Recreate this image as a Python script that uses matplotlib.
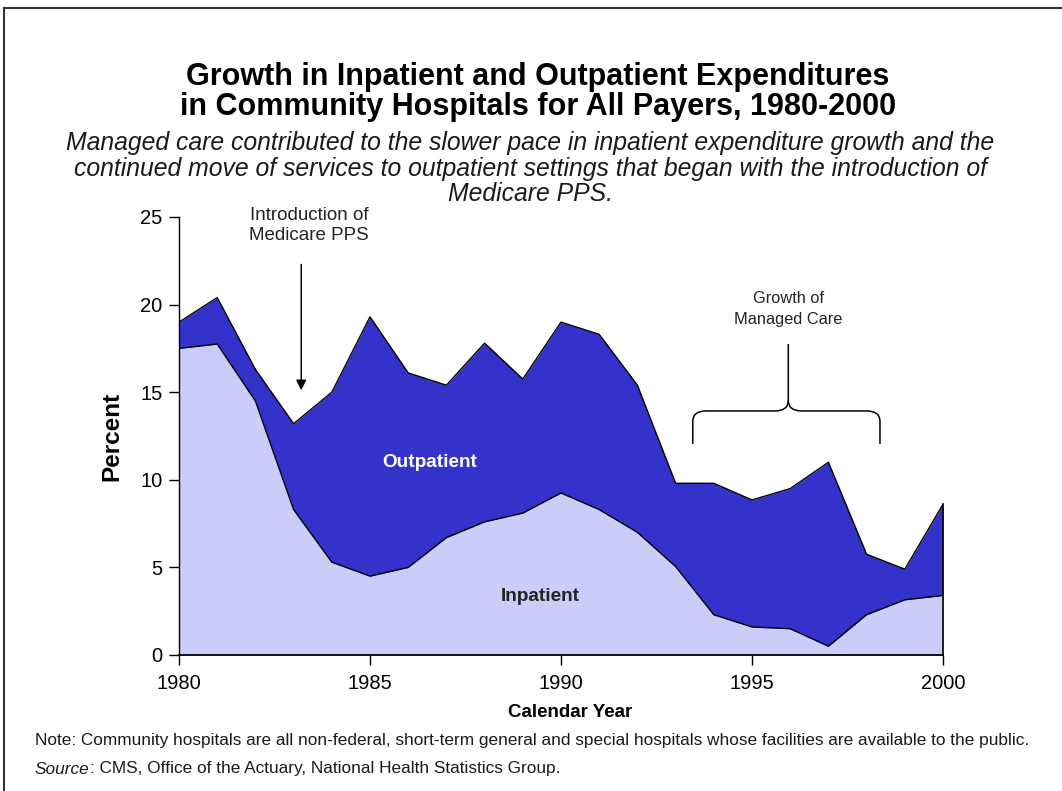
import matplotlib
matplotlib.use("Agg")
import matplotlib.pyplot as plt
from matplotlib.lines import Line2D
from matplotlib.path import Path
from matplotlib.patches import PathPatch

plt.rcParams['font.family'] = ['Liberation Sans', 'DejaVu Sans']

years = list(range(1980, 2001))
inpatient = [17.5, 17.75, 14.5, 8.3, 5.3, 4.5, 5.0, 6.7, 7.6, 8.1, 9.25,
             8.3, 7.0, 5.05, 2.3, 1.6, 1.5, 0.5, 2.3, 3.15, 3.4]
total = [19.0, 20.4, 16.3, 13.2, 15.0, 19.3, 16.1, 15.4, 17.8, 15.75, 19.0,
         18.3, 15.4, 9.8, 9.8, 8.85, 9.5, 11.0, 5.75, 4.9, 8.6]
xticks = [1980, 1985, 1990, 1995, 2000]
yticks = [0, 5, 10, 15, 20, 25]

title_lines = ["Growth in Inpatient and Outpatient Expenditures",
               "in Community Hospitals for All Payers, 1980-2000"]
subtitle_lines = ["Managed care contributed to the slower pace in inpatient expenditure growth and the",
                  "continued move of services to outpatient settings that began with the introduction of",
                  "Medicare PPS."]
note = "Note: Community hospitals are all non-federal, short-term general and special hospitals whose facilities are available to the public."
source_rest = ": CMS, Office of the Actuary, National Health Statistics Group."

W, H = 1062, 791
fig = plt.figure(figsize=(W / 100, H / 100), dpi=100)
ax = fig.add_axes([179 / W, 1 - 655 / H, (943 - 179) / W, (655 - 217) / H])

ax.fill_between(years, 0, inpatient, color='#CCCCF8', lw=0)
ax.fill_between(years, inpatient, total, color='#3333CC', lw=0)
ax.plot(years, inpatient, color='black', lw=1.0)
ax.plot(years, total, color='black', lw=1.0)

ax.set_xlim(1980, 2000)
ax.set_ylim(0, 25)
ax.set_xticks(xticks)
ax.set_yticks(yticks)
ax.tick_params(labelsize=14.5, direction='out', length=7, width=1)
ax.tick_params(axis='x', pad=7)
ax.tick_params(axis='y', pad=5)
ax.spines['top'].set_visible(False)
ax.spines['right'].set_linewidth(1.2)
ax.spines['left'].set_linewidth(1)
ax.spines['bottom'].set_linewidth(1.3)
ax.spines['right'].set_bounds(0, total[-1])
ax.set_ylabel("Percent", fontsize=17.5, fontweight='bold', labelpad=12)
ax.set_xlabel("Calendar Year", fontsize=13.5, fontweight='bold')
ax.xaxis.set_label_coords((570 - 179) / (943 - 179), -(704 - 655) / (655 - 217))

ax.text(1986.55, 11.0, "Outpatient", color='white', fontsize=13.7, fontweight='bold',
        ha='center', va='center')
ax.text(1989.45, 3.35, "Inpatient", color='#222222', fontsize=13.7, fontweight='bold',
        ha='center', va='center')

ax.annotate("", xy=(1983.2, 14.95), xytext=(1983.2, 22.45),
            arrowprops=dict(arrowstyle='-|>', color='black', lw=1.1, mutation_scale=15),
            annotation_clip=False)
ax.text(1983.4, 24.5, "Introduction of\nMedicare PPS", ha='center', va='center',
        fontsize=13.5, linespacing=1.25, clip_on=False, color='#222222')

ax.text(1995.95, 19.75, "Growth of\nManaged Care", ha='center', va='center',
        fontsize=11.8, linespacing=1.45, color='#222222')
xl, xr, xm = 1993.45, 1998.35, 1995.95
yb, yh, ys = 12.05, 13.93, 17.75
r = 0.35
verts = [(xl, yb), (xl, yh - 0.6), (xl, yh), (xl + r, yh),
         (xm - r, yh), (xm, yh), (xm, yh + 0.6), (xm, ys)]
codes = [Path.MOVETO, Path.LINETO, Path.CURVE3, Path.CURVE3,
         Path.LINETO, Path.CURVE3, Path.CURVE3, Path.LINETO]
ax.add_patch(PathPatch(Path(verts, codes), fill=False, lw=1.1, color='black'))
verts2 = [(xr, yb), (xr, yh - 0.6), (xr, yh), (xr - r, yh),
          (xm + r, yh), (xm, yh), (xm, yh + 0.6)]
codes2 = [Path.MOVETO, Path.LINETO, Path.CURVE3, Path.CURVE3,
          Path.LINETO, Path.CURVE3, Path.CURVE3]
ax.add_patch(PathPatch(Path(verts2, codes2), fill=False, lw=1.1, color='black'))

for txt, yp in zip(title_lines, [77, 107]):
    fig.text(538 / W, 1 - yp / H, txt, ha='center', va='center', fontsize=22,
             fontweight='bold')
for txt, yp in zip(subtitle_lines, [143, 169, 194]):
    fig.text(530 / W, 1 - yp / H, txt, ha='center', va='center', fontsize=17.8,
             style='italic', color='#1a1a1a')

fig.text(35 / W, 1 - 741 / H, note, ha='left', va='center', fontsize=12.4, color='#1a1a1a')
t = fig.text(35 / W, 1 - 769 / H, "Source", ha='left', va='center', fontsize=12.4,
             style='italic', color='#1a1a1a')
fig.canvas.draw()
bb = t.get_window_extent(renderer=fig.canvas.get_renderer())
fig.text(bb.x1 / W, 1 - 769 / H, source_rest, ha='left', va='center', fontsize=12.4,
         color='#1a1a1a')

fig.add_artist(Line2D([4 / W, 4 / W], [0, 1 - 8 / H], transform=fig.transFigure,
                      color='#333333', lw=1.5))
fig.add_artist(Line2D([4 / W, 1], [1 - 8 / H, 1 - 8 / H], transform=fig.transFigure,
                      color='#333333', lw=1.5))

fig.savefig("out.png", dpi=100)
